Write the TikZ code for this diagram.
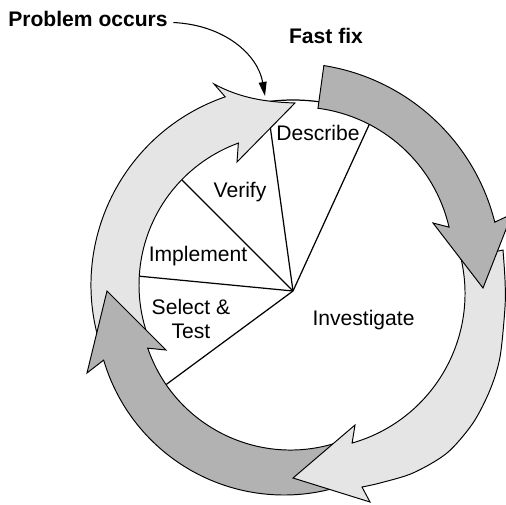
\documentclass[tikz,border=0pt]{standalone}
\usepackage{fontspec}
\setmainfont{Liberation Sans}
\usetikzlibrary{calc,arrows.meta}
\definecolor{lightfill}{gray}{0.9}
\definecolor{darkfill}{gray}{0.7}
\begin{document}
\begin{tikzpicture}[x=0.02cm,y=0.02cm,
  lightarrow/.style={fill=lightfill,draw=black,line width=0.55pt},
  darkarrow/.style={fill=darkfill,draw=black,line width=0.55pt},
  lbl/.style={inner sep=0pt,font=\fontsize{12}{13.2}\selectfont,align=center},
  blbl/.style={inner sep=0pt,font=\fontsize{12}{14}\selectfont\bfseries},
  pieline/.style={line width=0.7pt}]
\useasboundingbox (0,0) rectangle (506,504);
% pie
\coordinate (apex) at (293,213);
\draw[pieline,fill=white] (apex) circle[radius=191];
\foreach \a in {97.9,65.4,135,174.5,216.4}
  \draw[pieline] (apex) -- ++(\a:189);
% light arrow, upper left
\filldraw[lightarrow] ($(290,219)+(198:199)$) arc[start angle=198, end angle=109, radius=199]
  -- (214,420) .. controls (240,406) and (265,402) .. (295,401)
  -- (237,342) -- ($(290,219)+(110:151)$) arc[start angle=110, end angle=203, radius=151] -- cycle;
% dark arrow, lower left
\filldraw[darkarrow] ($(284,197)+(-72:188)$) arc[start angle=-72, end angle=-163.6, radius=188]
  -- (87,131) -- (107,213) -- (166,154)
  -- ($(290.5,205)+(-161:151)$) arc[start angle=-161, end angle=-72, radius=151] -- cycle;
% light arrow, right and bottom
\filldraw[lightarrow] (461,245) -- (503,254)
  -- plot[smooth] coordinates {(503,254) (505,224) (505,197) (500,147) (490,114) (473,81) (447,51) (413,31) (380,21) (362,17)}
  -- (370,2) -- (293,26) -- (355,79)
  -- ($(309.5,210.5)+(-74.1:155.5)$) arc[start angle=-74.1, end angle=12.8, radius=155.5] -- cycle;
% dark arrow, upper right
\filldraw[darkarrow] ($(291,231)+(81:210)$) arc[start angle=81, end angle=14, radius=210]
  -- (512,290) -- (483,216) -- (433,281)
  -- ($(298,242)+(13:155)$) arc[start angle=13, end angle=82.6, radius=155] -- cycle;
% labels
\node[lbl] (describe) at (318,371) {Describe};
\node[lbl] (verify) at (240,311.5) {Verify};
\node[lbl] (implement) at (198,247.5) {Implement};
\node[lbl] (select) at (191,185) {Select \&\\Test};
\node[lbl] (investigate) at (363.5,184) {Investigate};
\node[blbl] (fastfix) at (326,468.5) {Fast fix};
\node[blbl] (po) at (88,485) {Problem occurs};
\coordinate (hit) at (265,408);
\draw[line width=0.6pt,-{Triangle[length=8pt,width=4.5pt]}]
  ([xshift=3pt,yshift=-2pt]po.east) .. controls (225,479) and (258,449) .. (hit);
\end{tikzpicture}
\end{document}
